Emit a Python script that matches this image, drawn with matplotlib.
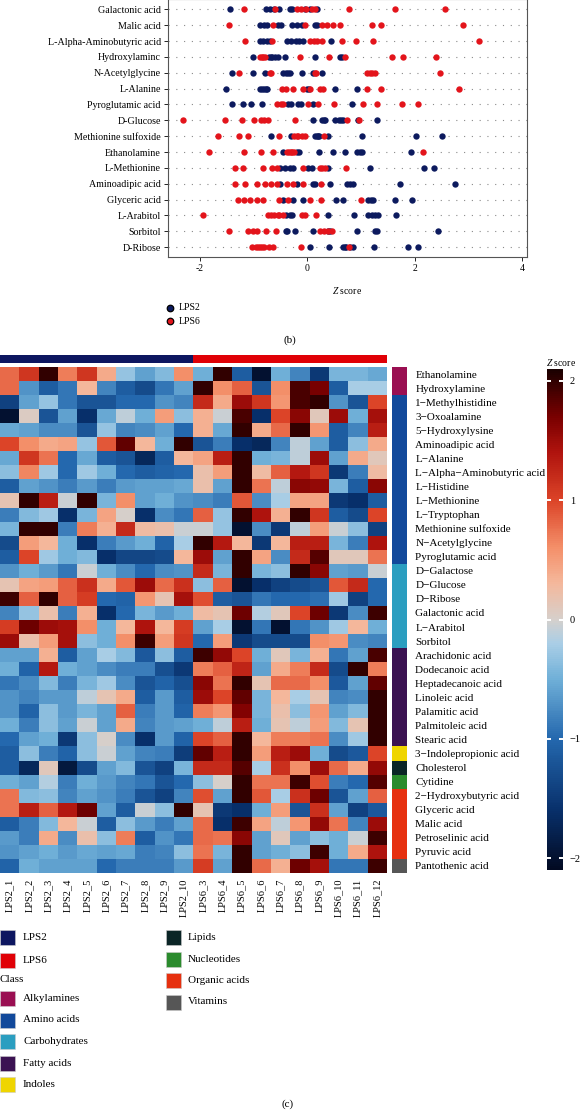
import matplotlib
matplotlib.use('Agg')
import matplotlib.pyplot as plt
import numpy as np
from matplotlib.colors import LinearSegmentedColormap, ListedColormap, Normalize
from matplotlib.cm import ScalarMappable
from matplotlib.patches import Rectangle

plt.rcParams['font.family'] = ['Liberation Serif', 'DejaVu Serif']
plt.rcParams['mathtext.fontset'] = 'custom'
plt.rcParams['mathtext.it'] = 'Liberation Serif:italic'
plt.rcParams['mathtext.rm'] = 'Liberation Serif'

W, H = 580, 1110

# ---------------- panel (b): z-score dot plot ----------------
dot_names = ['Galactonic acid', 'Malic acid', 'L-Alpha-Aminobutyric acid', 'Hydroxylaminc',
             'N-Acetylglycine', 'L-Alanine', 'Pyroglutamic acid', 'D-Glucose',
             'Methionine sulfoxide', 'Ethanolamine', 'L-Methionine', 'Aminoadipic acid',
             'Glyceric acid', 'L-Arabitol', 'Sorbitol', 'D-Ribose']
dot_lps2 = [
    [-1.44, -0.78, -0.70, -0.62, -0.52, -0.33, -0.28, -0.05, 0.05, 0.18],
    [-0.88, -0.80, -0.75, -0.55, -0.50, -0.29, -0.20, -0.10, 0.14, 0.18],
    [-0.88, -0.82, -0.76, -0.70, -0.38, -0.30, -0.22, -0.15, -0.08, 0.44],
    [-1.01, -0.72, -0.66, -0.60, -0.55, -0.42, 0.14, 0.60, 0.64, -0.68],
    [-1.40, -1.01, -0.79, -0.45, -0.40, -0.33, -0.10, 0.10, 0.27, -0.36],
    [-1.52, -0.88, -0.84, -0.80, -0.75, 0.00, 0.51, 0.92, -0.78, 0.02],
    [-1.41, -1.20, -1.05, -0.85, -0.36, -0.30, -0.18, 0.10, 0.83, -0.12],
    [0.10, 0.27, 0.30, 0.33, 0.51, 0.58, 0.66, 0.94, 1.29, 0.62],
    [-0.68, -0.30, 0.14, 0.18, 0.22, 0.38, 1.01, 2.02, 2.50, 0.20],
    [-0.46, -0.20, 0.21, 0.47, 0.70, 0.92, 0.98, 1.01, 1.93, -0.15],
    [-0.51, -0.42, -0.33, -0.27, 0.01, 0.08, 0.38, 1.16, 2.17, 2.36],
    [-0.51, -0.20, 0.14, 0.42, 0.74, 0.80, 0.85, 1.72, 2.75, 0.10],
    [-0.46, -0.27, -0.08, 0.53, 0.66, 1.13, 1.18, 1.22, 1.63, 1.95],
    [-0.40, -0.29, 0.38, 0.87, 1.13, 1.20, 1.26, 1.31, 1.65, -0.33],
    [-0.40, -0.23, 0.10, 0.38, 0.42, 0.92, 1.25, 1.29, 2.43, -0.38],
    [0.05, 0.40, 0.66, 0.72, 0.80, 0.85, 1.24, 1.87, 2.06, 0.70],
]
dot_lps6 = [
    [-1.18, -0.60, -0.20, -0.12, -0.02, 0.08, 0.15, 0.78, 1.63, 2.56],
    [-1.46, -0.64, -0.05, 0.27, 0.36, 0.47, 0.61, 1.20, 1.37, 2.90],
    [-1.16, -0.66, 0.05, 0.12, 0.18, 0.27, 0.64, 0.90, 1.22, 3.20],
    [-0.88, -0.84, -0.79, -0.14, 0.40, 0.69, 1.58, 1.78, 2.40, -0.82],
    [-1.27, -0.70, 0.16, 1.11, 1.16, 1.20, 1.26, 2.47, 0.14, -0.68],
    [-0.47, -0.40, -0.27, -0.08, 0.05, 0.23, 0.29, 1.11, 1.37, 2.82],
    [-0.57, -0.50, -0.45, 0.01, 0.20, 0.49, 1.04, 1.29, 1.76, 2.06],
    [-2.32, -1.53, -1.21, -1.00, -0.86, -0.73, -0.23, 0.74, 0.96, -0.80],
    [-1.67, -1.28, -1.11, -0.53, -0.25, -0.18, -0.10, -0.05, 0.30, -0.20],
    [-1.83, -1.18, -0.87, -0.64, -0.38, -0.30, -0.25, 2.15, -0.35, -0.28],
    [-1.35, -1.20, -0.83, -0.66, -0.57, -0.08, 0.23, 0.28, 0.33, 0.72],
    [-1.35, -1.16, -0.94, -0.79, -0.68, -0.57, -0.38, -0.27, -0.08, 0.25],
    [-1.29, -1.18, -1.07, -0.94, -0.83, -0.53, -0.36, 0.05, 0.25, 1.00],
    [-1.94, -0.73, -0.62, -0.52, -0.45, -0.10, 0.16, -0.68, -0.55, -0.05],
    [-1.46, -1.11, -1.02, -0.94, -0.77, -0.59, 0.23, 0.30, 0.38, 0.46],
    [-1.03, -0.95, -0.88, -0.80, -0.72, -0.64, -0.12, 0.77, -0.92, -0.85],
]
dot_ticks = [-2, 0, 2, 4]

# ---------------- panel (c): heatmap ----------------
samples = ['LPS2_1', 'LPS2_2', 'LPS2_3', 'LPS2_4', 'LPS2_5', 'LPS2_6', 'LPS2_7',
           'LPS2_8', 'LPS2_9', 'LPS2_10', 'LPS6_3', 'LPS6_4', 'LPS6_5', 'LPS6_6',
           'LPS6_7', 'LPS6_8', 'LPS6_9', 'LPS6_10', 'LPS6_11', 'LPS6_12']
groups = ['LPS2'] * 10 + ['LPS6'] * 10
metabolites = ['Ethanolamine', 'Hydroxylamine', '1\u2212Methylhistidine', '3\u2212Oxoalamine',
               '5\u2212Hydroxylysine', 'Aminoadipic acid', 'L\u2212Alanine',
               'L\u2212Alpha\u2212Aminobutyric acid', 'L\u2212Histidine', 'L\u2212Methionine',
               'L\u2212Tryptophan', 'Methionine sulfoxide', 'N\u2212Acetylglycine',
               'Pyroglutamic acid', 'D\u2212Galactose', 'D\u2212Glucose', 'D\u2212Ribose',
               'Galactonic acid', 'L\u2212Arabitol', 'Sorbitol', 'Arachidonic acid',
               'Dodecanoic acid', 'Heptadecanoic acid', 'Linoleic acid', 'Palamitic acid',
               'Palmitoleic acid', 'Stearic acid', '3\u2212Indolepropionic acid', 'Cholesterol',
               'Cytidine', '2\u2212Hydroxybutyric acid', 'Glyceric acid', 'Malic acid',
               'Petroselinic acid', 'Pyruvic acid', 'Pantothenic acid']
met_class = (['Alkylamines'] * 2 + ['Amino acids'] * 12 + ['Carbohydrates'] * 6 +
             ['Fatty acids'] * 7 + ['Indoles'] + ['Lipids'] + ['Nucleotides'] +
             ['Organic acids'] * 5 + ['Vitamins'])
class_names = ['Alkylamines', 'Amino acids', 'Carbohydrates', 'Fatty acids', 'Indoles',
               'Lipids', 'Nucleotides', 'Organic acids', 'Vitamins']
class_colors = ['#9a0f52', '#12499b', '#2b9ec0', '#3b1252', '#efd500',
                '#0b2526', '#2b8b2d', '#e6300f', '#565656']
group_names = ['LPS2', 'LPS6']
group_colors = ['#0d1660', '#e00006']

heat = np.array([
    [0.8, 1.1, 2.0, 0.7, 1.1, 0.4, -0.3, -0.6, -0.4, 0.6, -0.5, 2.0, -1.1, -2.0, -0.5, -0.8, -1.5, -0.45, -0.45, -0.55],
    [0.8, -0.7, -1.1, -0.9, 0.3, -0.8, -1.1, -1.3, -0.9, -0.6, 2.0, 0.6, 0.85, -1.2, 0.6, 1.9, 1.7, -1.1, -0.2, -0.2],
    [-1.4, -0.6, -0.3, -0.9, -1.2, -1.2, -1.0, -1.0, -0.7, -0.8, 1.2, 0.4, 1.5, 1.1, 0.55, 1.9, 2.0, -0.7, -1.2, 1.0],
    [-2.0, 0.05, -1.2, -0.6, -1.6, -0.55, -0.1, -0.5, 0.5, -0.35, 0.35, -0.05, 1.9, -1.6, 1.0, 1.6, 0.1, 1.5, -0.5, 1.45],
    [-0.55, -0.6, -0.75, -0.75, -1.2, -0.3, -0.8, -0.75, -0.6, -1.0, 0.35, -0.55, 2.0, 0.4, 0.8, 2.0, 0.55, -1.1, -0.8, 1.3],
    [1.0, 0.6, 0.4, 0.45, -0.3, 0.9, 1.8, 0.3, -0.5, 2.0, -1.2, -0.85, -1.6, -1.7, -0.8, -0.1, -0.6, -1.1, -0.35, 0.4],
    [-0.55, 1.1, 0.75, -1.0, -0.55, -1.1, -1.2, -1.7, -1.1, 0.3, 0.45, 1.3, 2.0, -0.5, -0.45, -0.1, 1.5, -0.6, 0.4, 0.1],
    [-0.35, 0.65, -0.25, -1.0, -0.25, -0.5, -1.0, -1.1, -1.05, -1.0, 0.2, 0.5, 2.0, 0.25, 0.85, 1.35, 1.1, -1.5, -0.85, 0.25],
    [-1.1, -0.6, -0.7, -0.85, -0.65, -0.85, -0.65, -0.6, -0.6, -0.55, 0.2, -0.6, 2.0, 0.75, -0.1, 1.6, 1.55, -0.45, -1.1, 1.6],
    [0.15, 2.0, 1.3, -0.05, 2.0, -0.45, 0.6, -0.6, -0.5, -0.7, -0.75, -0.85, 0.9, -0.75, -0.2, 0.45, 0.45, -1.5, -1.6, -1.1],
    [-0.85, -0.4, -0.25, -1.6, -0.45, 0.45, 0.0, -1.6, -0.75, -0.9, 0.85, -0.3, 2.0, 1.4, 0.35, 2.0, 1.1, -1.1, -1.3, 1.0],
    [-0.45, 2.0, 2.0, -0.85, 0.7, 0.35, 1.2, 0.25, 0.2, -0.05, -0.05, -0.3, -2.0, -0.75, -1.5, -0.1, 0.5, -0.05, -0.35, -1.4],
    [-1.3, 0.5, 0.3, -0.5, -1.6, -0.85, -0.65, -0.5, -1.05, -0.2, 2.0, 1.35, 0.3, -1.5, 0.3, 1.3, 1.3, -0.45, -0.85, 1.4],
    [-1.1, 1.0, -0.25, -0.5, -0.4, -1.6, -1.35, -1.35, -1.3, 0.3, 1.5, -0.6, 2.0, 0.45, -0.75, 1.2, 1.85, 0.1, 0.1, 0.75],
    [-0.7, -0.5, -0.65, -0.9, -0.05, -0.5, -0.75, -1.0, -0.75, -0.7, 1.2, -0.45, 2.0, -0.45, -0.35, 2.0, 1.6, -0.6, -0.65, -0.05],
    [0.15, 0.45, 0.5, 0.85, 1.15, 0.4, 0.9, 1.5, 0.8, 1.15, -0.35, 0.85, -2.0, -1.6, -1.4, -1.3, -1.2, 0.9, 1.2, -1.0],
    [1.95, 0.85, 2.0, 0.85, 1.05, -1.0, -1.05, 0.55, 0.15, 1.45, 0.95, -1.1, -1.2, -0.9, -1.0, -1.0, -0.95, -0.25, -1.4, -1.0],
    [-0.8, -0.3, 0.2, -0.85, 0.35, -1.6, -1.0, -0.45, -0.65, -0.5, 0.25, 0.15, 1.75, -0.15, 0.1, 1.0, 1.75, -1.5, -0.75, 1.95],
    [1.05, 1.75, 1.5, 1.45, 0.6, -0.5, 0.3, 1.4, 0.3, 1.05, -0.6, -0.2, -2.0, -0.9, -2.0, -0.9, -0.7, -0.25, 0.3, -0.5],
    [1.5, 0.2, 0.5, 1.45, -0.35, -0.5, 0.6, 1.95, 0.5, 1.1, -1.0, 0.5, -1.5, -1.3, -1.3, -1.3, 0.6, 0.55, -0.75, -0.8],
    [-0.6, -0.6, 0.35, -1.1, -0.6, -0.2, -0.4, -1.15, -0.35, -1.1, 1.95, 1.55, 1.0, -0.5, 0.1, -0.45, 0.35, -0.9, -0.6, 1.9],
    [-0.5, -1.05, 1.35, -0.5, -0.6, -0.75, -0.85, -0.85, -1.25, -1.5, 0.7, 0.85, 1.25, -0.6, 0.4, 0.7, 1.2, -1.3, 2.0, 0.7],
    [-0.9, -0.75, -0.4, -0.85, -0.45, -0.25, -0.75, -1.2, -1.05, -1.25, 1.6, 0.75, 2.0, 0.15, 0.8, 0.8, 0.6, -1.15, -0.6, 1.8],
    [-0.7, -0.8, -0.65, -0.65, -0.1, 0.15, 0.4, -1.1, -0.65, -1.1, 1.5, 1.0, 1.8, -0.45, 0.3, -0.2, 0.15, -0.8, -0.75, 2.0],
    [-0.7, -1.05, -0.35, -0.65, -0.45, -0.6, 0.85, -0.85, -0.65, -1.05, 0.7, 0.55, 1.65, -0.45, 0.2, -0.35, 0.55, -0.6, -0.4, 2.0],
    [-0.5, -0.85, -0.35, -0.6, -0.05, -0.6, 0.4, -0.8, -0.65, -0.6, -0.5, -0.1, 1.3, -0.5, 0.15, -0.1, 0.5, -0.4, 0.15, 2.0],
    [-1.0, -0.6, -0.5, -1.5, -0.35, 0.0, -0.75, -1.6, -0.65, -1.05, 1.0, 0.85, 2.0, 0.3, 0.7, 0.7, 0.75, -0.75, -0.25, 2.0],
    [-1.1, -0.35, -0.85, -1.05, -0.35, -0.05, -0.6, -0.8, -0.85, -1.45, 1.8, 1.3, 2.0, 0.5, 1.3, 1.5, -0.5, -1.3, -1.15, 1.0],
    [-1.1, -1.7, 0.1, -1.9, -1.3, -0.6, -0.4, -1.2, -1.4, -0.45, 1.2, 1.2, 1.85, -0.2, 1.15, 0.6, 1.5, 0.8, 0.4, 1.55],
    [-0.5, -0.6, -0.15, -0.85, -0.5, -0.65, -0.8, -0.9, -1.2, -1.0, -0.35, 0.0, 2.0, 0.75, 0.75, 1.95, 0.95, -0.85, -1.0, 1.85],
    [0.75, -0.4, -0.35, -0.8, -0.6, -0.7, -0.85, -1.2, -1.4, -0.8, 0.95, -0.6, 2.0, 0.9, -0.2, 1.15, 1.75, -1.2, -0.6, 0.85],
    [0.75, 1.3, 0.85, 1.35, 1.75, -0.6, -1.1, -0.05, -0.35, 2.0, 0.15, -1.5, -1.6, -0.5, 0.5, -1.2, 1.15, -0.6, -1.4, -1.15],
    [-1.1, -0.85, -0.4, 0.3, -0.05, -1.1, -0.35, -0.65, -0.85, -0.6, 0.8, -1.6, 1.95, 0.45, -0.1, 0.55, 1.55, 0.75, -0.8, 1.5],
    [-0.65, -0.85, 0.4, -0.75, 0.2, -0.35, 0.7, -1.1, -0.7, -0.9, 0.8, 0.75, 1.6, -0.6, 0.1, -0.6, -0.35, -0.5, -0.05, 1.95],
    [-0.7, -0.6, -0.5, -0.65, -0.55, -0.6, -0.55, -0.85, -0.8, -0.35, 0.75, -0.45, 2.0, -0.6, -0.5, -0.35, 1.95, -0.5, 0.4, 1.4],
    [-1.05, -0.5, -0.6, -0.6, -0.6, -1.0, -0.85, -0.85, -0.85, -0.65, 1.05, -0.6, 2.0, 0.8, 0.35, 1.75, 1.45, -0.9, -0.9, 1.95],
])
cbar_ticks = [-2, -1, 0, 1, 2]


def box(x0, y0, x1, y1):
    # pixel box (top-left origin) -> figure fraction rect
    return [x0 / W, 1 - y1 / H, (x1 - x0) / W, (y1 - y0) / H]


fig = plt.figure(figsize=(W / 100, H / 100), dpi=100)

# ---- (b) dot plot ----
ax_b = fig.add_axes(box(167.7, -1, 526.7, 256.7))
n = len(dot_names)
ax_b.hlines(range(n), -2.6, 4.1, colors='#8a8a8a', linestyles=(0, (1, 6)), linewidth=0.8, zorder=1)
for i in range(n):
    ax_b.scatter(dot_lps2[i], [i] * len(dot_lps2[i]), s=21, color='#0c1a5e', linewidths=0, zorder=3)
    ax_b.scatter(dot_lps6[i], [i] * len(dot_lps6[i]), s=21, color='#e3141b', linewidths=0, zorder=3)
ax_b.set_xlim(-2.60, 4.08)
ax_b.set_ylim(15.6, -0.65)
ax_b.set_yticks(range(n))
ax_b.set_yticklabels(dot_names, fontsize=7.2)
ax_b.set_xticks(dot_ticks)
ax_b.set_xticklabels([str(t) for t in dot_ticks], fontsize=7)
ax_b.tick_params(direction='out', length=3, width=0.6, pad=2)
for sp in ax_b.spines.values():
    sp.set_linewidth(0.8)
    sp.set_color('#555555')
ax_b.set_xlabel('$Z$ score', fontsize=7, labelpad=9)

# ---- heatmap ----
cmap = LinearSegmentedColormap.from_list('zs', [
    (0.0, '#020a22'), (0.5 / 4.2, '#08306b'), (1.1 / 4.2, '#2468ae'),
    (1.6 / 4.2, '#70b0d8'), (1.9 / 4.2, '#aacee6'), (2.1 / 4.2, '#d6d0cc'),
    (2.4 / 4.2, '#f4b89c'), (2.7 / 4.2, '#f4906a'), (3.1 / 4.2, '#dc4428'),
    (3.5 / 4.2, '#b0140e'), (3.8 / 4.2, '#7a0000'), (1.0, '#1a0000')])
norm = Normalize(vmin=-2.1, vmax=2.1)

ax_h = fig.add_axes(box(0, 367, 387, 873))
ax_h.imshow(heat, cmap=cmap, norm=norm, aspect='auto', interpolation='nearest')
ax_h.set_xticks(range(len(samples)))
ax_h.set_xticklabels(samples, rotation=90, fontsize=7.5, va='top')
ax_h.set_yticks([])
ax_h.tick_params(length=0, pad=4)
for sp in ax_h.spines.values():
    sp.set_visible(False)

# group annotation bar
ax_g = fig.add_axes(box(0, 355, 387, 363))
ax_g.imshow([[group_names.index(g) for g in groups]], cmap=ListedColormap(group_colors),
            aspect='auto', interpolation='nearest', vmin=0, vmax=1)
ax_g.axis('off')

# class annotation bar + row labels
ax_c = fig.add_axes(box(392, 367, 407, 873))
ax_c.imshow([[class_names.index(c)] for c in met_class], cmap=ListedColormap(class_colors),
            aspect='auto', interpolation='nearest', vmin=0, vmax=len(class_names) - 1)
ax_c.set_xticks([])
ax_c.yaxis.tick_right()
ax_c.set_yticks(range(len(metabolites)))
ax_c.set_yticklabels(metabolites, fontsize=8)
ax_c.tick_params(length=0, pad=6)
for sp in ax_c.spines.values():
    sp.set_visible(False)

# colour bar
ax_cb = fig.add_axes(box(547, 369, 563, 870))
cb = fig.colorbar(ScalarMappable(norm=norm, cmap=cmap), cax=ax_cb, ticks=cbar_ticks)
cb.outline.set_visible(False)
cb.ax.set_yticklabels(['\u22122', '\u22121', '0', '1', '2'], fontsize=7.5)
cb.ax.tick_params(length=0, pad=5)
ax_cb.hlines(cbar_ticks, 0, 0.25, colors='white', linewidth=1.4)
ax_cb.hlines(cbar_ticks, 0.75, 1, colors='white', linewidth=1.4)
fig.text(546 / W, 1 - 362 / H, '$Z$ score', fontsize=7, ha='left', va='center')

# ---- overlay for legends and panel letters ----
ov = fig.add_axes([0, 0, 1, 1])
ov.set_xlim(0, W)
ov.set_ylim(H, 0)
ov.axis('off')

for k, name in enumerate(group_names):
    ov.scatter([170], [308 + 13 * k], s=22, color=['#0c1a5e', '#e3141b'][k],
               edgecolors='black', linewidths=0.9)
    ov.text(179, 308 + 13 * k, name, fontsize=7, va='center')
ov.text(290, 340, '(b)', fontsize=8, ha='center', va='center')

# group legend
for k, (name, col) in enumerate(zip(group_names, group_colors)):
    y = 930 + 23 * k
    ov.add_patch(Rectangle((0, y), 15, 15, facecolor=col, edgecolor='#cccccc', linewidth=0.4))
    ov.text(23, y + 7.5, name, fontsize=8, va='center')
ov.text(0, 980, 'Class', fontsize=8, va='center')
col1 = class_names[:5]
col2 = class_names[5:]
for k, name in enumerate(col1):
    y = 991 + 21.5 * k
    ov.add_patch(Rectangle((0, y), 15, 15, facecolor=class_colors[class_names.index(name)],
                           edgecolor='#cccccc', linewidth=0.4))
    ov.text(23, y + 7.5, name, fontsize=8, va='center')
for k, name in enumerate(col2):
    y = 930 + 21.5 * k
    ov.add_patch(Rectangle((166, y), 15, 15, facecolor=class_colors[class_names.index(name)],
                           edgecolor='#cccccc', linewidth=0.4))
    ov.text(188, y + 7.5, name, fontsize=8, va='center')
ov.text(288, 1104, '(c)', fontsize=8, ha='center', va='center')

fig.savefig('out.png', dpi=100)
